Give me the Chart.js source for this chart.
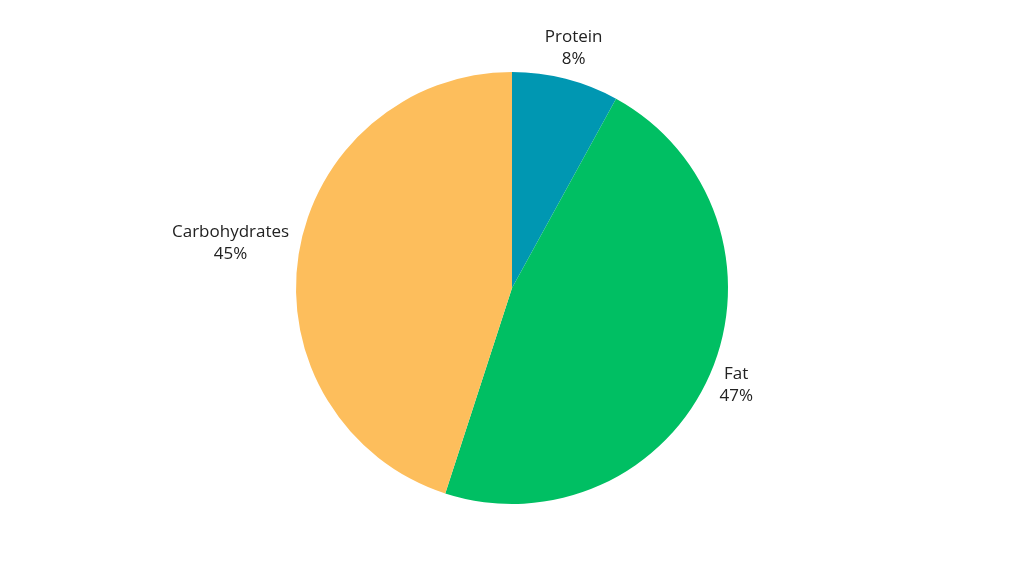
<!DOCTYPE html>
<html>
<head>
<meta charset="utf-8">
<script src="https://cdn.jsdelivr.net/npm/chart.js@4"></script>
<style>
html,body{margin:0;padding:0;background:#fff;}
#wrap{width:1024px;height:576px;}
</style>
</head>
<body>
<div id="wrap"><canvas id="c" width="1024" height="576"></canvas></div>
<script>
const categories = ["Protein", "Fat", "Carbohydrates"];
const values = [8, 47, 45];
const labelsPct = ["8%", "47%", "45%"];
const colors = ["#0097b2", "#00bf63", "#fdbe5c"];

const outsideLabels = {
  id: 'outsideLabels',
  afterDatasetsDraw(chart) {
    const ctx = chart.ctx;
    const meta = chart.getDatasetMeta(0);
    ctx.save();
    ctx.font = '17px "Open Sans", sans-serif';
    ctx.fillStyle = '#222222';
    ctx.textAlign = 'center';
    ctx.textBaseline = 'middle';
    const lineH = 22;
    meta.data.forEach((arc, i) => {
      const p = arc.getProps(['x','y','startAngle','endAngle','outerRadius'], true);
      const mid = (p.startAngle + p.endAngle) / 2;
      const lines = [categories[i], labelsPct[i]];
      const w = Math.max(...lines.map(l => ctx.measureText(l).width));
      const hw = w / 2, hh = 20;
      const cx = Math.cos(mid), sy = Math.sin(mid);
      const d = p.outerRadius + 11 + Math.sqrt((cx * hw) ** 2 + (sy * hh) ** 2);
      const x = p.x + cx * d, y = p.y + sy * d;
      lines.forEach((l, k) => {
        ctx.fillText(l, x, y - lineH / 2 + k * lineH);
      });
    });
    ctx.restore();
  }
};

new Chart(document.getElementById('c'), {
  type: 'pie',
  data: {
    labels: categories,
    datasets: [{ data: values, backgroundColor: colors, borderWidth: 0 }]
  },
  options: {
    responsive: false,
    animation: false,
    layout: { padding: { top: 72, bottom: 72, left: 0, right: 0 } },
    plugins: { legend: { display: false }, tooltip: { enabled: false } }
  },
  plugins: [outsideLabels]
});
</script>
</body>
</html>
